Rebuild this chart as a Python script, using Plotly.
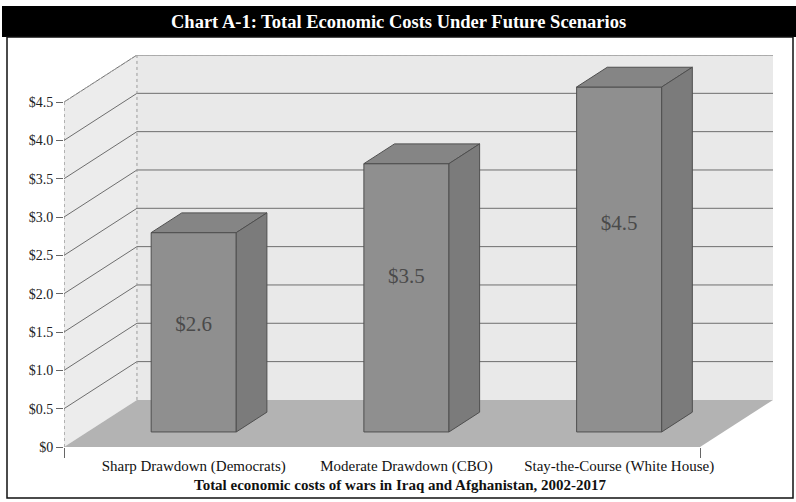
import plotly.graph_objects as go

# ---------------- data ----------------
categories = ["Sharp Drawdown (Democrats)", "Moderate Drawdown (CBO)", "Stay-the-Course (White House)"]
costs = [2.6, 3.5, 4.5]
value_labels = ["$2.6", "$3.5", "$4.5"]
y_ticks = [0, 0.5, 1.0, 1.5, 2.0, 2.5, 3.0, 3.5, 4.0, 4.5]
y_tick_labels = ["$0", "$0.5", "$1.0", "$1.5", "$2.0", "$2.5", "$3.0", "$3.5", "$4.0", "$4.5"]
title_text = "Chart A-1: Total Economic Costs Under Future Scenarios"
axis_title = "Total economic costs of wars in Iraq and Afghanistan, 2002-2017"

# ---------------- geometry (pseudo-3D projection) ----------------
W, H = 796, 502
L_PX, R_PX, B_PX = 64, 773, 447          # plot area pixel bounds
DEPTH_X, DEPTH_Y = 0.343, 0.614          # full wall depth offset in data units
X0 = -0.5
X1 = 2.833
YMAX = max(y_ticks) + DEPTH_Y
SCALE_Y = 76.6
T_PX = round(B_PX - YMAX * SCALE_Y)
BAR_FRONT, BAR_BACK = 0.32, 0.74         # depth fractions of bar front/back planes
BAR_W = 0.4
XF = X1 - DEPTH_X                        # right end of front floor edge

FONT = "Liberation Serif"


def px_x(p):
    return (p - L_PX) / (R_PX - L_PX)


def px_y(p):
    return (B_PX - p) / (B_PX - T_PX)


shapes = []
# back wall
shapes.append(dict(type="rect", xref="x", yref="y", layer="below",
                   x0=X0 + DEPTH_X, x1=X1, y0=DEPTH_Y, y1=YMAX,
                   fillcolor="#e9e9e9", line=dict(width=0)))
# side wall
shapes.append(dict(type="path", xref="x", yref="y", layer="below",
                   path=f"M {X0},0 L {X0},{max(y_ticks)} L {X0+DEPTH_X},{YMAX} L {X0+DEPTH_X},{DEPTH_Y} Z",
                   fillcolor="#ececec", line=dict(width=0)))
# floor
shapes.append(dict(type="path", xref="x", yref="y", layer="below",
                   path=f"M {X0},0 L {XF},0 L {X1},{DEPTH_Y} L {X0+DEPTH_X},{DEPTH_Y} Z",
                   fillcolor="#b3b3b3", line=dict(width=0)))
# gridlines (side wall diagonals + back wall horizontals)
for v in y_ticks[1:]:
    shapes.append(dict(type="line", xref="x", yref="y", layer="below",
                       x0=X0, y0=v, x1=X0 + DEPTH_X, y1=v + DEPTH_Y,
                       line=dict(color="#6e6e6e", width=1)))
    shapes.append(dict(type="line", xref="x", yref="y", layer="below",
                       x0=X0 + DEPTH_X, y0=v + DEPTH_Y, x1=X1, y1=v + DEPTH_Y,
                       line=dict(color="#6e6e6e", width=1)))
# wall edges
shapes.append(dict(type="line", xref="x", yref="y", layer="below",
                   x0=X0 + DEPTH_X, y0=DEPTH_Y, x1=X0 + DEPTH_X, y1=YMAX,
                   line=dict(color="#9a9a9a", width=1, dash="dot")))
shapes.append(dict(type="line", xref="x", yref="y", layer="below",
                   x0=X0, y0=0, x1=X0, y1=max(y_ticks),
                   line=dict(color="#777777", width=1, dash="dot")))
shapes.append(dict(type="line", xref="x", yref="y", layer="below",
                   x0=X0 + DEPTH_X, y0=YMAX, x1=X1, y1=YMAX,
                   line=dict(color="#b0b0b0", width=1, dash="dot")))
shapes.append(dict(type="line", xref="x", yref="y", layer="below",
                   x0=X0, y0=max(y_ticks), x1=X0 + DEPTH_X, y1=YMAX,
                   line=dict(color="#b0b0b0", width=1, dash="dot")))
# title band and border
shapes.append(dict(type="rect", xref="paper", yref="paper",
                   x0=px_x(2), x1=px_x(796), y0=px_y(37), y1=px_y(6),
                   fillcolor="black", line=dict(width=0)))
shapes.append(dict(type="rect", xref="paper", yref="paper",
                   x0=px_x(7), x1=px_x(793), y0=px_y(498), y1=px_y(37),
                   fillcolor="rgba(0,0,0,0)", line=dict(color="#111111", width=1.5)))

fig = go.Figure()

bar_x = [i + BAR_FRONT * DEPTH_X for i in range(len(categories))]
base = BAR_FRONT * DEPTH_Y
dx = (BAR_BACK - BAR_FRONT) * DEPTH_X
dy = (BAR_BACK - BAR_FRONT) * DEPTH_Y

# front faces
fig.add_trace(go.Bar(x=bar_x, y=costs, base=base, width=BAR_W,
                     marker=dict(color="#8f8f8f", line=dict(color="#4f4f4f", width=1)),
                     hoverinfo="skip", showlegend=False))

# top and side faces
for cx, v in zip(bar_x, costs):
    xl, xr = cx - BAR_W / 2, cx + BAR_W / 2
    top = base + v
    fig.add_trace(go.Scatter(x=[xl, xr, xr + dx, xl + dx, xl],
                             y=[top, top, top + dy, top + dy, top],
                             mode="lines", fill="toself", fillcolor="#858585",
                             line=dict(color="#4f4f4f", width=1),
                             hoverinfo="skip", showlegend=False))
    fig.add_trace(go.Scatter(x=[xr, xr + dx, xr + dx, xr, xr],
                             y=[base, base + dy, top + dy, top, base],
                             mode="lines", fill="toself", fillcolor="#7b7b7b",
                             line=dict(color="#4f4f4f", width=1),
                             hoverinfo="skip", showlegend=False))

# value labels
fig.add_trace(go.Scatter(x=bar_x, y=[0.69 * v - 0.21 for v in costs],
                         mode="text", text=value_labels,
                         textfont=dict(family=FONT, size=21, color="#4a4a4a"),
                         hoverinfo="skip", showlegend=False))

annotations = [
    dict(text=f"<b>{title_text}</b>", xref="paper", yref="paper",
         x=px_x(398), y=px_y(22), xanchor="center", yanchor="middle", showarrow=False,
         font=dict(family=FONT, size=18.5, color="white")),
    dict(text=f"<b>{axis_title}</b>", xref="paper", yref="paper",
         x=px_x(400), y=px_y(485), xanchor="center", yanchor="middle", showarrow=False,
         font=dict(family=FONT, size=15, color="#111111")),
]

fig.update_layout(
    width=W, height=H,
    margin=dict(l=L_PX, r=W - R_PX, t=T_PX, b=H - B_PX, pad=0),
    paper_bgcolor="white", plot_bgcolor="white",
    shapes=shapes, annotations=annotations,
    showlegend=False,
    xaxis=dict(range=[X0, X1], showgrid=False, zeroline=False, showline=False,
               tickvals=bar_x, ticktext=categories, ticks="",
               tickfont=dict(family=FONT, size=15, color="#111111"),
               ticklabelstandoff=8,
               minor=dict(ticks="outside", tickmode="array", tickvals=[X0, XF],
                          ticklen=10, tickcolor="#666666", showgrid=False)),
    yaxis=dict(range=[0, YMAX], showgrid=False, zeroline=False, showline=False,
               tickvals=y_ticks, ticktext=y_tick_labels, ticks="outside",
               ticklen=7, tickcolor="#666666",
               tickfont=dict(family=FONT, size=14, color="#222222")),
)

fig.write_html("out.html", config={"displayModeBar": False},
               post_script="document.body.style.margin='0';")
